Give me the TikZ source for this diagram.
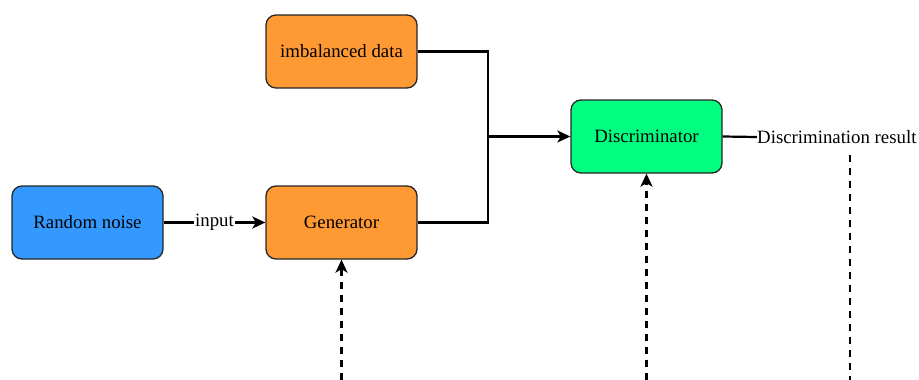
\documentclass[tikz,border=0pt]{standalone}
\usepackage{fontspec}
\setmainfont{Liberation Serif}
\usetikzlibrary{arrows.meta}
\definecolor{cblue}{HTML}{3399FF}
\definecolor{corange}{HTML}{FF9933}
\definecolor{cgreen}{HTML}{00FF80}
\begin{document}
\begin{tikzpicture}[x=1pt,y=-1pt,
  box/.style={draw=black!85,line width=1.3pt,rounded corners=10pt,minimum width=151pt,minimum height=73pt,inner sep=0pt,font=\fontsize{18.8}{22}\selectfont},
  conn/.style={line width=2.2pt},
  tip/.style={-{Stealth[length=13pt,width=12pt,inset=3.5pt]}},
  arr/.style={conn,tip},
  dsh/.style={line width=2.2pt,dash pattern=on 7pt off 6pt}]
\useasboundingbox (0,0) rectangle (919,380);
\node[box,fill=cblue] (noise) at (87.5,222.5) {Random noise};
\node[box,fill=corange] (gen) at (341.5,222.5) {Generator};
\node[box,fill=corange] (imb) at (341.5,51.5) {imbalanced data};
\node[box,fill=cgreen] (dis) at (646.5,136.5) {Discriminator};
\node[anchor=west,inner sep=0pt,font=\fontsize{18.8}{22}\selectfont] (res) at (757,137) {Discrimination result};
\coordinate (j) at (488,136.5);
\coordinate (b1) at (341.5,380);
\coordinate (b2) at (646.5,380);
\coordinate (rt) at (850,155);
\coordinate (rb) at (850,380);
\draw[arr] (noise) -- node[fill=white,inner sep=1pt,font=\fontsize{18.8}{22}\selectfont]{input} (gen);
\draw[conn] (imb.east) -| (j);
\draw[conn] (gen.east) -| (j);
\draw[arr] (j) -- (dis.west);
\draw[conn] (dis.east) -- (res.west);
\draw[dsh,tip] (b1) -- (gen.south);
\draw[dsh,tip] (b2) -- (dis.south);
\draw[dsh] (rt) -- (rb);
\end{tikzpicture}
\end{document}
